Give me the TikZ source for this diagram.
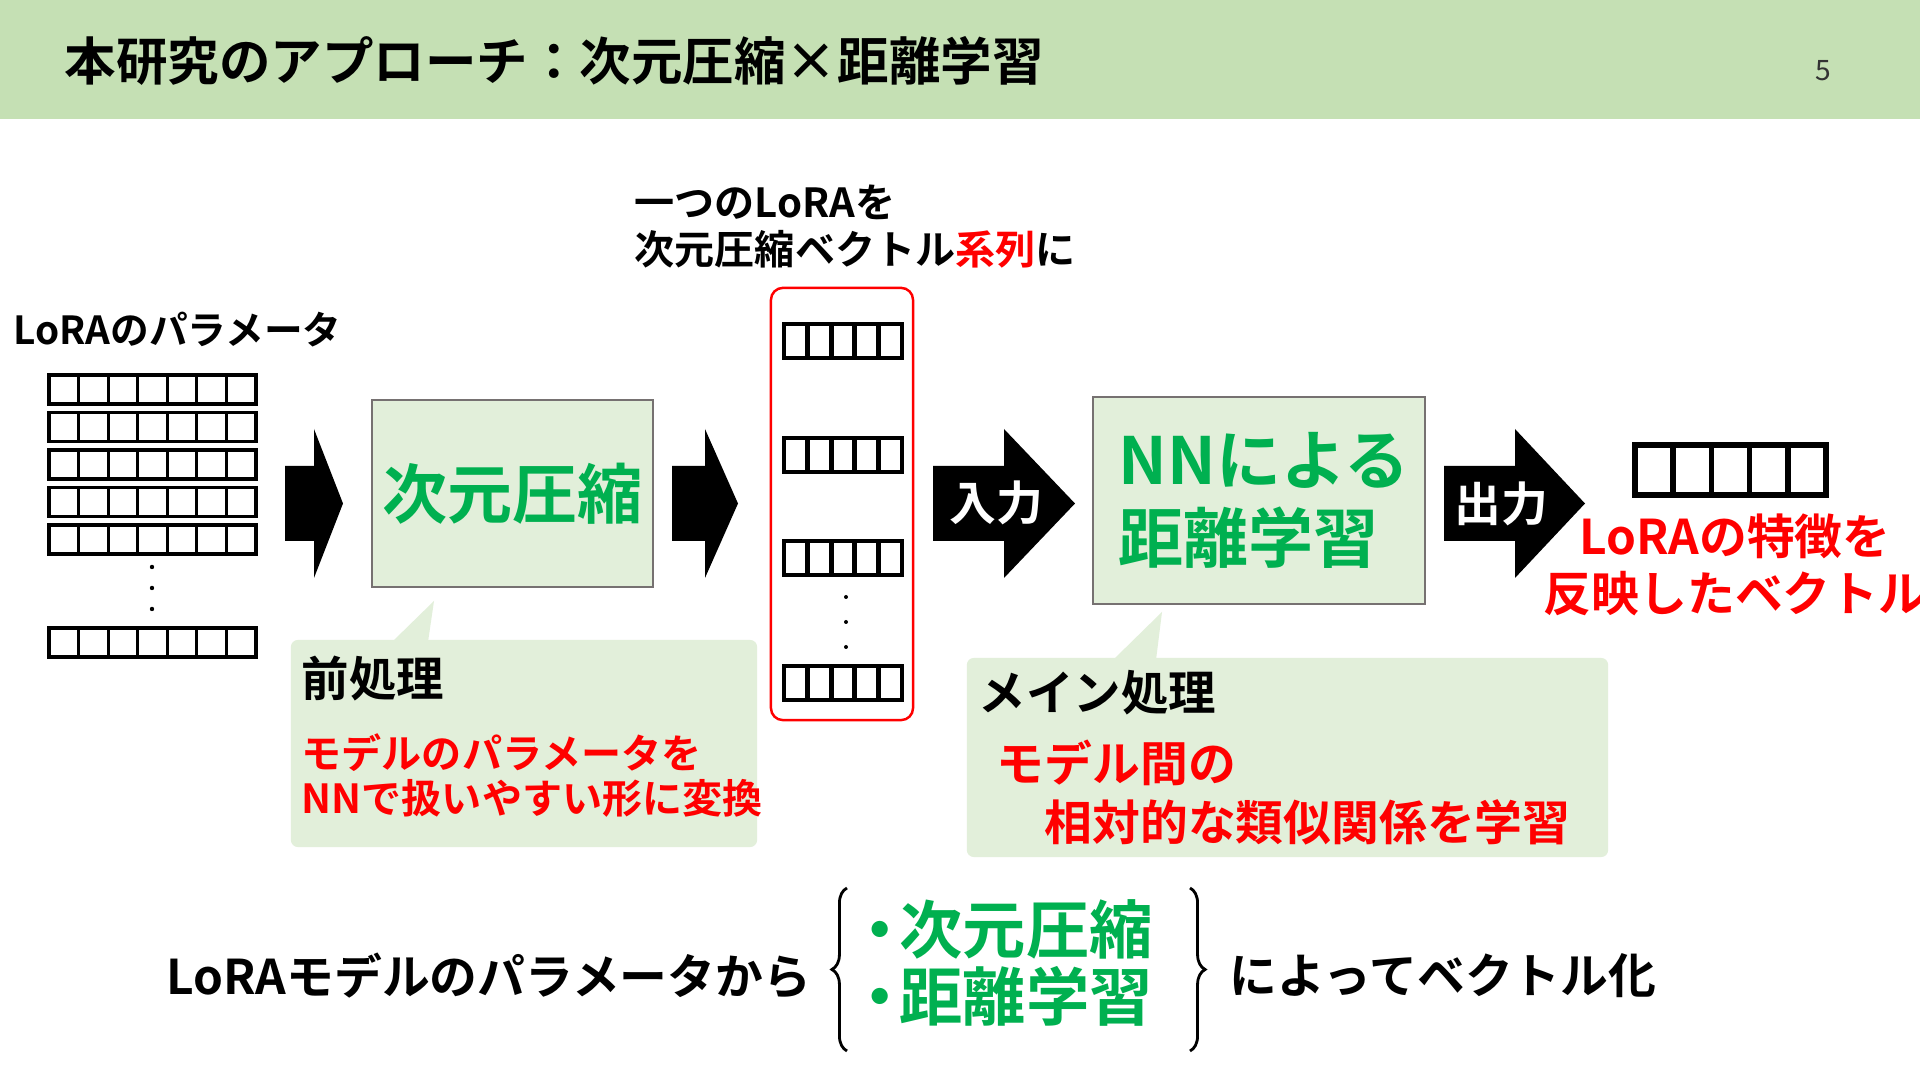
\documentclass[tikz,border=0pt]{standalone}
\usepackage{fontspec}
\setmainfont{Noto Sans CJK JP}[UprightFont=* Bold]
\newfontfamily\numfont{Noto Sans CJK JP}
\usepackage{tikz}
\usetikzlibrary{decorations.pathreplacing}

\definecolor{headgreen}{HTML}{C5E0B4}
\definecolor{boxfill}{HTML}{E2EFDA}
\definecolor{boxgray}{HTML}{767171}
\definecolor{lrgreen}{HTML}{00B050}
\definecolor{lrred}{HTML}{FF0000}

\tikzset{
    txt/.style={inner sep=0pt},
    mainbox/.style={draw=boxgray, line width=0.7pt, fill=boxfill, text=lrgreen, inner sep=0pt},
    seqframe/.style={draw=lrred, line width=0.7pt, rounded corners=3.4pt, inner sep=0pt},
    callout/.style={fill=boxfill, rounded corners=2pt, inner sep=0pt},
    cell/.style={line width=0.9pt},
    vec/.style={line width=1.4pt},
    curly/.style={decorate, decoration={brace, amplitude=4.3pt}, line width=0.8pt},
}

\begin{document}
\begin{tikzpicture}[x=0.01cm, y=-0.01cm]
    \useasboundingbox (0,0) rectangle (1920,1080);
    \fill[white] (0,0) rectangle (1920,1080);
    \fill[headgreen] (0,0) rectangle (1920,119);

    % header
    \node[txt, anchor=west, font=\fontsize{14.65}{18}\selectfont] (title) at (64,61) {本研究のアプローチ：次元圧縮×距離学習};
    \node[txt, text=black!80, font=\numfont\fontsize{8}{10}\selectfont] (pagenum) at (1823,71) {5};

    % LoRA parameters
    \node[txt, anchor=west, font=\fontsize{11}{13}\selectfont] (paramlabel) at (13,330) {LoRAのパラメータ};
    \foreach \r in {375,412.5,450,487.5,525,628} {
        \draw[cell] (49,\r) rectangle (256,\r+29);
        \foreach \c in {1,...,6} \draw[cell] (49+\c*29.57,\r) -- (49+\c*29.57,\r+29);
    }
    \foreach \y in {567,588,609} \fill (152,\y) circle (0.022cm);

    % block arrows
    \foreach \xa/\xb/\xc in {285/314/343, 672/705/738, 933/1004/1075, 1444/1515/1585}
        \fill (\xa,466) -- (\xb,466) -- (\xb,429) -- (\xc,503.5) -- (\xb,578) -- (\xb,541) -- (\xa,541) -- cycle;

    % dimension reduction
    \node[mainbox, minimum width=2.81cm, minimum height=1.87cm, font=\fontsize{18.5}{22}\selectfont] (dimred) at (512.5,493.5) {次元圧縮};

    % sequence of vectors
    \node[txt, anchor=west, align=left, font=\fontsize{11.4}{13.4}\selectfont] (seqlabel) at (634,226.5) {一つのLoRAを\\次元圧縮ベクトル\textcolor{lrred}{系列}に};
    \node[seqframe, minimum width=1.42cm, minimum height=4.32cm] (seq) at (842,504) {};
    \foreach \r in {324,438,541,666} {
        \draw[vec] (784,\r) rectangle (902,\r+34);
        \foreach \c in {1,...,4} \draw[vec] (784+\c*23.6,\r) -- (784+\c*23.6,\r+34);
    }
    \foreach \y in {597,622,647} \fill (846,\y) circle (0.02cm);

    % metric learning
    \node[mainbox, minimum width=3.32cm, minimum height=2.07cm, align=left, font=\fontsize{18.5}{22.2}\selectfont] (nnbox) at (1259,500.5) {\hspace*{0.1cm}NNによる\\\hspace*{0.1cm}距離学習};
    \node[txt, text=white, font=\fontsize{13.3}{16}\selectfont] (inlabel) at (996,503) {入力};
    \node[txt, text=white, font=\fontsize{13.3}{16}\selectfont] (outlabel) at (1501,504) {出力};

    % output vector
    \draw[vec, line width=1.6pt] (1635,445) rectangle (1826,495);
    \foreach \c in {1,...,4} \draw[vec, line width=1.6pt] (1635+\c*38.2,445) -- ++(0,50);
    \node[txt, text=lrred, align=center, font=\fontsize{13.6}{16.2}\selectfont] (outtext) at (1735,564.5) {LoRAの特徴を\\反映したベクトル};

    % callouts
    \node[callout, minimum width=4.66cm, minimum height=2.07cm] (pre) at (524,743.5) {};
    \fill[boxfill] (392,642) -- (434,601) -- (428,642) -- cycle;
    \node[txt, anchor=west, font=\fontsize{13.5}{16}\selectfont] (prehead) at (301,679) {前処理};
    \node[txt, anchor=west, align=left, text=lrred, font=\fontsize{11.4}{12.8}\selectfont] (pretext) at (301,775.5) {モデルのパラメータを\\NNで扱いやすい形に変換};

    \node[callout, minimum width=6.41cm, minimum height=1.99cm] (mainproc) at (1287.5,757.5) {};
    \fill[boxfill] (1113,660) -- (1162,612) -- (1156,660) -- cycle;
    \node[txt, anchor=west, font=\fontsize{13.5}{16}\selectfont] (mainhead) at (978,693) {メイン処理};
    \node[txt, anchor=west, align=left, text=lrred, font=\fontsize{13.6}{16.8}\selectfont] (maintext) at (996,792.5) {モデル間の\\\hspace*{1em}相対的な類似関係を学習};

    % summary
    \node[txt, anchor=west, font=\fontsize{13.6}{16}\selectfont] (sumleft) at (166,976) {LoRAモデルのパラメータから};
    \draw[curly] (847,1051) -- (847,888);
    \node[txt, anchor=west, align=left, text=lrgreen, font=\fontsize{18}{19.3}\selectfont] (sumitems) at (848,963) {・\kern-0.2em次元圧縮\\・\kern-0.2em距離学習};
    \draw[curly] (1190,888) -- (1190,1051);
    \node[txt, anchor=west, font=\fontsize{13.6}{16}\selectfont] (sumright) at (1229,976) {によってベクトル化};
\end{tikzpicture}
\end{document}
